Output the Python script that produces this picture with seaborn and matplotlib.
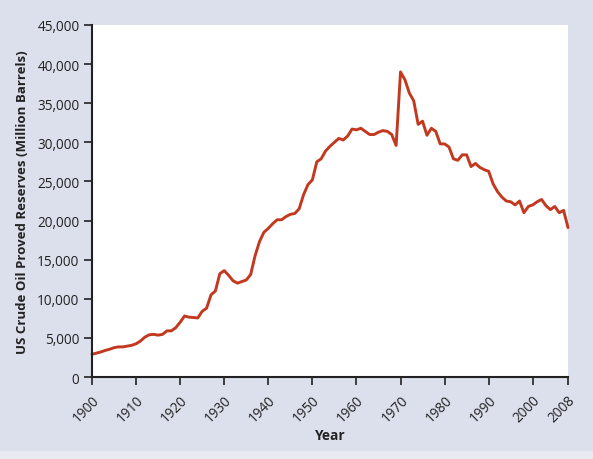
import numpy as np
import pandas as pd
import matplotlib
matplotlib.use('Agg')
import matplotlib.pyplot as plt
from matplotlib.patches import Rectangle
from matplotlib.ticker import FuncFormatter
import seaborn as sns

# US crude oil proved reserves, million barrels
years = list(range(1900, 2009))
reserves = [
    2900, 3050, 3200, 3400, 3550, 3750, 3850, 3850, 3950, 4050,  # 1900s
    4250, 4600, 5100, 5400, 5450, 5350, 5450, 5900, 5900, 6300,  # 1910s
    7000, 7800, 7650, 7600, 7550, 8400, 8800, 10500, 11000, 13200,  # 1920s
    13600, 13000, 12300, 12000, 12200, 12400, 13100, 15500, 17300, 18500,  # 1930s
    19000, 19600, 20100, 20100, 20500, 20800, 20900, 21500, 23300, 24600,  # 1940s
    25200, 27500, 27900, 28900, 29500, 30000, 30500, 30300, 30800, 31700,  # 1950s
    31600, 31800, 31400, 31000, 31000, 31300, 31500, 31400, 31000, 29600,  # 1960s
    39000, 38000, 36300, 35300, 32300, 32700, 30900, 31800, 31400, 29800,  # 1970s
    29800, 29400, 27900, 27700, 28400, 28400, 26900, 27300, 26800, 26500,  # 1980s
    26300, 24700, 23700, 23000, 22500, 22400, 22000, 22500, 21000, 21800,  # 1990s
    22000, 22400, 22700, 21900, 21400, 21800, 21000, 21300, 19100,  # 2000s
]
xticks = list(range(1900, 2001, 10)) + [2008]
yticks = list(range(0, 45001, 5000))

df = pd.DataFrame({'Year': years, 'Reserves': reserves})

sns.set_style('ticks')
plt.rcParams['font.family'] = ['Open Sans', 'DejaVu Sans']

bg = '#dcdfec'
fig = plt.figure(figsize=(5.93, 4.6), dpi=100, facecolor=bg)
fig.patches.append(Rectangle((0, 0), 1, 8 / 460, transform=fig.transFigure,
                             facecolor='#e9ebf3', edgecolor='none', zorder=0))
ax = fig.add_axes([92 / 593, 1 - 378 / 460, 476 / 593, 352 / 460])
ax.set_facecolor('white')

sns.lineplot(data=df, x='Year', y='Reserves', ax=ax, color='#c2391f',
             linewidth=2.1, clip_on=False)

ax.set_xlim(1900, 2008)
ax.set_ylim(0, 45000)
ax.set_xticks(xticks)
ax.set_yticks(yticks)
ax.yaxis.set_major_formatter(FuncFormatter(lambda v, p: '{:,.0f}'.format(v)))
for lab in ax.get_xticklabels():
    lab.set_rotation(45)
    lab.set_ha('right')
    lab.set_rotation_mode('anchor')

ax.tick_params(axis='both', direction='out', length=6, width=1.2,
               color='#222222', labelsize=9.8, labelcolor='#222222', pad=3)
ax.tick_params(axis='x', pad=5)
sns.despine(ax=ax)
for side in ['left', 'bottom']:
    ax.spines[side].set_linewidth(1.5)
    ax.spines[side].set_color('#222222')

ax.set_xlabel('Year', fontsize=9.8, fontweight='bold', color='#222222',
              labelpad=2)
ax.set_ylabel('US Crude Oil Proved Reserves (Million Barrels)', fontsize=9.5,
              fontweight='bold', color='#222222', labelpad=6)

fig.savefig('out.png', dpi=100, facecolor=bg)
